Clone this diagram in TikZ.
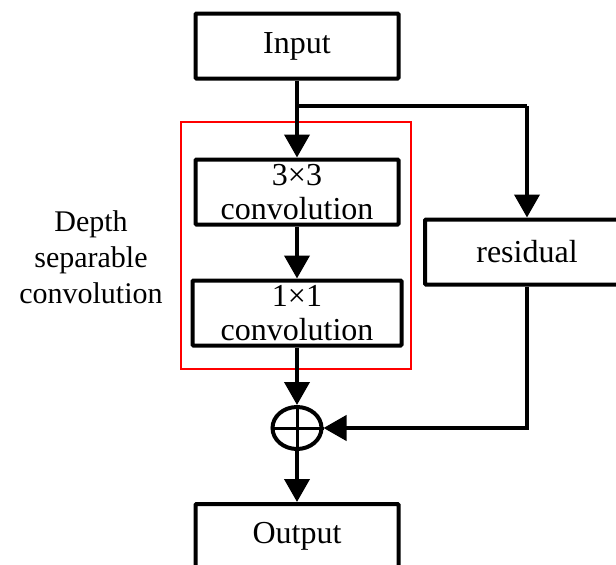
\documentclass[tikz,border=0pt]{standalone}
\usepackage{fontspec}
\setmainfont{Liberation Serif}
\usetikzlibrary{arrows.meta, shapes.geometric}
\tikzset{
  >={Triangle[width=25pt,length=23pt]},
  % Specifications for style of nodes:
        base/.style = {rectangle, draw=black, line width=4pt,
                       rounded corners=1pt, align=center,
                       font=\fontsize{32}{37}\selectfont},
       block/.style = {base, minimum width=203pt, minimum height=65pt},
    sumpoint/.style = {ellipse, draw=black, line width=4pt,
                       minimum width=49pt, minimum height=42pt,
                       inner sep=0pt},
        link/.style = {->, line width=4pt},
}

\begin{document}
\begin{tikzpicture}[x=1pt, y=1pt]
    \useasboundingbox (0,0) rectangle (616,-565);
    % Specification of nodes (position, etc.)
    \node (input)     [block]                     at (297,-46)    {Input};
    \node (convThree) [block]                     at (297,-192)
                                              {3×3\\[-3pt]convolution};
    \node (convOne)   [block, minimum width=209pt] at (297,-313)
                                              {1×1\\[-3pt]convolution};
    \node (residual)  [block, minimum width=204pt] at (527,-252)
                                                            {residual};
    \node (sum)       [sumpoint]                  at (297,-428)   {};
    \node (output)    [block, minimum height=64pt] at (297,-536)
                                                              {Output};
    \node (depthLabel) [align=center, font=\fontsize{30}{36}\selectfont]
                                                  at (91,-257)
                              {Depth\\separable\\convolution};
    \coordinate (branch) at (297,-106);

    % red frame round the depth separable part
    \draw[draw=red, line width=1.3pt] (181,-122) rectangle (411,-369);

    % plus sign inside the sum node
    \draw[line width=3pt] (sum.west) -- (sum.east)
                          (sum.north) -- (sum.south);

    % Specification of lines between nodes specified above
    \draw[link]  (input) -- (convThree);
    \draw[line width=4pt, line join=round]
                 (branch) -- (branch -| residual.north);
    \draw[link]  (branch -| residual.north) -- (residual.north);
    \draw[link]  (convThree) -- (convOne);
    \draw[link]  (convOne) -- (sum);
    \draw[link]  (residual.south) |- (sum.east);
    \draw[link]  (sum) -- (output);
\end{tikzpicture}
\end{document}
